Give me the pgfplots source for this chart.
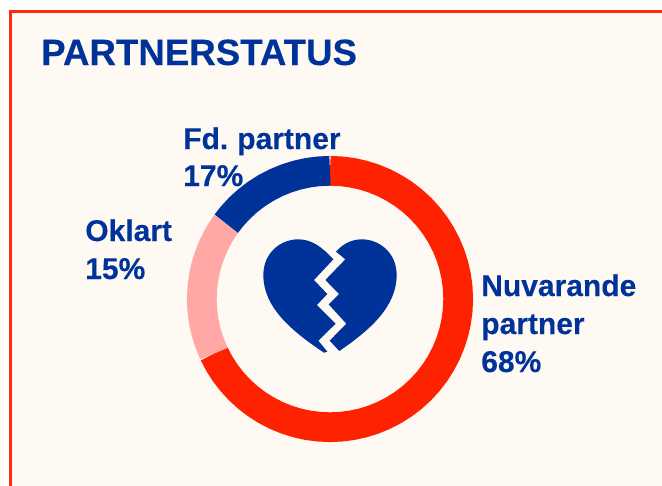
\documentclass[border=0pt]{standalone}
\usepackage{fontspec}
\setmainfont[WordSpace=0.75,BoldFeatures={FakeBold=0.2}]{Liberation Sans}
\usepackage{pgfplots}
\pgfplotsset{compat=1.18}
\usepgfplotslibrary{polar}
\definecolor{bgcream}{HTML}{FFF9F3}
\definecolor{framered}{HTML}{FF2A0A}
\definecolor{ringred}{HTML}{FF2200}
\definecolor{ringpink}{HTML}{FFA8A5}
\definecolor{navy}{HTML}{00339A}
\begin{document}
\begin{tikzpicture}[x=0.75pt,y=-0.75pt]
% page and frame, in reference pixels
\fill[white] (0,0) rectangle (662,486);
\fill[bgcream] (9,10) rectangle (662,486);
\fill[framered] (9,10) rectangle (662,13);
\fill[framered] (9,10) rectangle (12,486);
\coordinate (ringcentre) at (330,299);
% ring: angle (deg), radius (px); 68 / 17 / 15 percent of the turn
\begin{polaraxis}[
    at={(ringcentre)}, anchor=center,
    scale only axis,
    width=214.5pt, height=214.5pt,
    hide axis,
    clip=false,
    ymin=0, ymax=142.5,
]
\addplot[ringred, line width=22.3pt, line join=round, line cap=butt, no markers] coordinates {
(90,127.75) (85,127.75) (80,127.75) (75,127.75) (70,127.75) (65,127.75) (60,127.75) (55,127.75)
(50,127.75) (45,127.75) (40,127.75) (35,127.75) (30,127.75) (25,127.75) (20,127.75) (15,127.75)
(10,127.75) (5,127.75) (0,127.75) (-5,127.75) (-10,127.75) (-15,127.75) (-20,127.75) (-25,127.75)
(-30,127.75) (-35,127.75) (-40,127.75) (-45,127.75) (-50,127.75) (-55,127.75) (-60,127.75) (-65,127.75)
(-70,127.75) (-75,127.75) (-80,127.75) (-85,127.75) (-90,127.75) (-95,127.75) (-100,127.75) (-105,127.75)
(-110,127.75) (-115,127.75) (-120,127.75) (-125,127.75) (-130,127.75) (-135,127.75) (-140,127.75) (-145,127.75)
(-150,127.75) (-154.8,127.75)
};
\addplot[ringpink, line width=22.3pt, line join=round, line cap=butt, no markers] coordinates {
(205.2,127.75) (200,127.75) (195,127.75) (190,127.75) (185,127.75) (180,127.75) (175,127.75) (170,127.75)
(165,127.75) (160,127.75) (155,127.75) (150,127.75) (145,127.75) (144,127.75)
};
\addplot[navy, line width=22.3pt, line join=round, line cap=butt, no markers] coordinates {
(144,127.75) (140,127.75) (135,127.75) (130,127.75) (125,127.75) (120,127.75) (115,127.75) (110,127.75)
(105,127.75) (100,127.75) (95,127.75) (90,127.75)
};
\end{polaraxis}
% broken heart icon, traced in 3x crop coordinates
\begin{scope}[shift={(240,220)}, x=0.25pt, y=-0.25pt]
\fill[navy] (280,118) -- (222,180) -- (262,222) -- (231,255) -- (287,311) -- (235,362) -- (262,395) -- (252,398)
  .. controls (150,330) and (70,260) .. (70,165)
  .. controls (70,100) and (120,58) .. (175,58)
  .. controls (215,58) and (245,80) .. (280,118) -- cycle;
\fill[navy] (288,95) -- (316,118) -- (256,180) -- (297,222) -- (266,253) -- (319,311) -- (269,362) -- (298,393)
  .. controls (390,330) and (470,260) .. (470,165)
  .. controls (470,100) and (420,58) .. (365,58)
  .. controls (335,58) and (308,72) .. (288,95) -- cycle;
\end{scope}
% texts
\tikzset{lab/.style={anchor=base west, inner sep=0pt, text=navy, font=\fontsize{22.5pt}{27pt}\selectfont\bfseries}}
\node[anchor=base west, inner sep=0pt, text=navy, font=\fontsize{27.5pt}{32pt}\selectfont\bfseries] at (41,65) {PARTNERSTATUS};
\node[lab] at (183,149) {Fd. partner};
\node[lab] at (183,186) {17\%};
\node[lab] at (85,241) {Oklart};
\node[lab] at (85,279) {15\%};
\node[lab] at (481,296) {Nuvarande};
\node[lab] at (481,334) {partner};
\node[lab] at (481,372) {68\%};
\end{tikzpicture}
\end{document}
